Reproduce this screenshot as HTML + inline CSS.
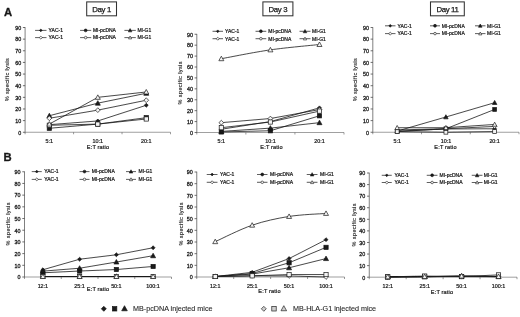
<!DOCTYPE html>
<html><head><meta charset="utf-8"><title>Figure</title>
<style>
html,body{margin:0;padding:0;background:#fff;}
body{width:520px;height:317px;overflow:hidden;font-family:"Liberation Sans", sans-serif;}
svg{display:block;font-family:"Liberation Sans", sans-serif;fill:#1a1a1a;}
svg text{fill:#1a1a1a;}
</style></head><body>
<svg width="520" height="317" viewBox="0 0 520 317">
<rect width="520" height="317" fill="#fff"/>
<g filter="url(#soft)">
<line x1="25.1" y1="27.2" x2="25.1" y2="132.55" stroke="#505050" stroke-width="0.72"/>
<line x1="25.1" y1="132.25" x2="170.5" y2="132.25" stroke="#777" stroke-width="0.7"/>
<line x1="22.900000000000002" y1="132.25" x2="25.1" y2="132.25" stroke="#333" stroke-width="0.7"/>
<text x="21.20" y="134.55" font-size="5.4" text-anchor="end" font-weight="normal" stroke="#1a1a1a" stroke-width="0.28" >0</text>
<line x1="22.900000000000002" y1="120.61" x2="25.1" y2="120.61" stroke="#333" stroke-width="0.7"/>
<text x="21.20" y="122.91" font-size="5.4" text-anchor="end" font-weight="normal" stroke="#1a1a1a" stroke-width="0.28" >10</text>
<line x1="22.900000000000002" y1="108.97" x2="25.1" y2="108.97" stroke="#333" stroke-width="0.7"/>
<text x="21.20" y="111.27" font-size="5.4" text-anchor="end" font-weight="normal" stroke="#1a1a1a" stroke-width="0.28" >20</text>
<line x1="22.900000000000002" y1="97.33" x2="25.1" y2="97.33" stroke="#333" stroke-width="0.7"/>
<text x="21.20" y="99.63" font-size="5.4" text-anchor="end" font-weight="normal" stroke="#1a1a1a" stroke-width="0.28" >30</text>
<line x1="22.900000000000002" y1="85.69" x2="25.1" y2="85.69" stroke="#333" stroke-width="0.7"/>
<text x="21.20" y="87.99" font-size="5.4" text-anchor="end" font-weight="normal" stroke="#1a1a1a" stroke-width="0.28" >40</text>
<line x1="22.900000000000002" y1="74.06" x2="25.1" y2="74.06" stroke="#333" stroke-width="0.7"/>
<text x="21.20" y="76.36" font-size="5.4" text-anchor="end" font-weight="normal" stroke="#1a1a1a" stroke-width="0.28" >50</text>
<line x1="22.900000000000002" y1="62.42" x2="25.1" y2="62.42" stroke="#333" stroke-width="0.7"/>
<text x="21.20" y="64.72" font-size="5.4" text-anchor="end" font-weight="normal" stroke="#1a1a1a" stroke-width="0.28" >60</text>
<line x1="22.900000000000002" y1="50.78" x2="25.1" y2="50.78" stroke="#333" stroke-width="0.7"/>
<text x="21.20" y="53.08" font-size="5.4" text-anchor="end" font-weight="normal" stroke="#1a1a1a" stroke-width="0.28" >70</text>
<line x1="22.900000000000002" y1="39.14" x2="25.1" y2="39.14" stroke="#333" stroke-width="0.7"/>
<text x="21.20" y="41.44" font-size="5.4" text-anchor="end" font-weight="normal" stroke="#1a1a1a" stroke-width="0.28" >80</text>
<line x1="22.900000000000002" y1="27.50" x2="25.1" y2="27.50" stroke="#333" stroke-width="0.7"/>
<text x="21.20" y="29.80" font-size="5.4" text-anchor="end" font-weight="normal" stroke="#1a1a1a" stroke-width="0.28" >90</text>
<line x1="25.10" y1="132.25" x2="25.10" y2="134.25" stroke="#555" stroke-width="0.6"/>
<line x1="73.57" y1="132.25" x2="73.57" y2="134.25" stroke="#555" stroke-width="0.6"/>
<line x1="122.03" y1="132.25" x2="122.03" y2="134.25" stroke="#555" stroke-width="0.6"/>
<line x1="170.50" y1="132.25" x2="170.50" y2="134.25" stroke="#555" stroke-width="0.6"/>
<text x="49.33" y="142.70" font-size="5.4" text-anchor="middle" font-weight="normal" stroke="#1a1a1a" stroke-width="0.22" >5:1</text>
<text x="97.80" y="142.70" font-size="5.4" text-anchor="middle" font-weight="normal" stroke="#1a1a1a" stroke-width="0.22" >10:1</text>
<text x="146.27" y="142.70" font-size="5.4" text-anchor="middle" font-weight="normal" stroke="#1a1a1a" stroke-width="0.22" >20:1</text>
<text x="98.00" y="148.70" font-size="5.6" text-anchor="middle" font-weight="normal" stroke="#1a1a1a" stroke-width="0.22" letter-spacing="0.15">E:T ratio</text>
<text transform="translate(9.4 79.7) rotate(-90)" font-size="5.6" text-anchor="middle" stroke="#1a1a1a" stroke-width="0.12" textLength="43" lengthAdjust="spacing">% specific lysis</text>
<polyline points="49.33,124.68 97.80,120.96 146.27,105.25" fill="none" stroke="#1a1a1a" stroke-width="0.8"/>
<polyline points="49.33,128.29 97.80,124.10 146.27,117.70" fill="none" stroke="#1a1a1a" stroke-width="0.8"/>
<polyline points="49.33,115.72 97.80,103.15 146.27,93.26" fill="none" stroke="#1a1a1a" stroke-width="0.8"/>
<polyline points="49.33,118.28 97.80,110.14 146.27,100.24" fill="none" stroke="#1a1a1a" stroke-width="0.8"/>
<polyline points="49.33,125.27 97.80,124.10 146.27,118.98" fill="none" stroke="#1a1a1a" stroke-width="0.8"/>
<polyline points="49.33,124.10 97.80,97.33 146.27,91.98" fill="none" stroke="#1a1a1a" stroke-width="0.8"/>
<path d="M49.33 122.73L51.28 124.68L49.33 126.63L47.38 124.68Z" fill="#1a1a1a" stroke="#1a1a1a" stroke-width="0.7"/>
<path d="M97.80 119.01L99.75 120.96L97.80 122.91L95.85 120.96Z" fill="#1a1a1a" stroke="#1a1a1a" stroke-width="0.7"/>
<path d="M146.27 103.30L148.22 105.25L146.27 107.20L144.32 105.25Z" fill="#1a1a1a" stroke="#1a1a1a" stroke-width="0.7"/>
<rect x="47.21" y="126.17" width="4.25" height="4.25" fill="#1a1a1a" stroke="#1a1a1a" stroke-width="0.7"/>
<rect x="95.68" y="121.98" width="4.25" height="4.25" fill="#1a1a1a" stroke="#1a1a1a" stroke-width="0.7"/>
<rect x="144.14" y="115.58" width="4.25" height="4.25" fill="#1a1a1a" stroke="#1a1a1a" stroke-width="0.7"/>
<path d="M49.33 113.22L51.83 117.72L46.83 117.72Z" fill="#1a1a1a" stroke="#1a1a1a" stroke-width="0.7"/>
<path d="M97.80 100.65L100.30 105.15L95.30 105.15Z" fill="#1a1a1a" stroke="#1a1a1a" stroke-width="0.7"/>
<path d="M146.27 90.76L148.77 95.26L143.77 95.26Z" fill="#1a1a1a" stroke="#1a1a1a" stroke-width="0.7"/>
<path d="M49.33 115.91L51.71 118.28L49.33 120.66L46.96 118.28Z" fill="#f4f4f4" stroke="#1a1a1a" stroke-width="0.7"/>
<path d="M97.80 107.76L100.18 110.14L97.80 112.51L95.43 110.14Z" fill="#f4f4f4" stroke="#1a1a1a" stroke-width="0.7"/>
<path d="M146.27 97.87L148.64 100.24L146.27 102.62L143.89 100.24Z" fill="#f4f4f4" stroke="#1a1a1a" stroke-width="0.7"/>
<rect x="47.21" y="123.14" width="4.25" height="4.25" fill="#f4f4f4" stroke="#1a1a1a" stroke-width="0.7"/>
<rect x="95.68" y="121.98" width="4.25" height="4.25" fill="#f4f4f4" stroke="#1a1a1a" stroke-width="0.7"/>
<rect x="144.14" y="116.86" width="4.25" height="4.25" fill="#f4f4f4" stroke="#1a1a1a" stroke-width="0.7"/>
<path d="M49.33 121.60L51.83 126.10L46.83 126.10Z" fill="#f4f4f4" stroke="#1a1a1a" stroke-width="0.7"/>
<path d="M97.80 94.83L100.30 99.33L95.30 99.33Z" fill="#f4f4f4" stroke="#1a1a1a" stroke-width="0.7"/>
<path d="M146.27 89.48L148.77 93.98L143.77 93.98Z" fill="#f4f4f4" stroke="#1a1a1a" stroke-width="0.7"/>
<line x1="35.1" y1="30.4" x2="46.5" y2="30.4" stroke="#1a1a1a" stroke-width="0.7"/>
<path d="M40.80 29.00L42.20 30.40L40.80 31.80L39.40 30.40Z" fill="#1a1a1a" stroke="#1a1a1a" stroke-width="0.6"/>
<text x="48.60" y="32.20" font-size="5.0" text-anchor="start" font-weight="normal" stroke="#1a1a1a" stroke-width="0.22" >YAC-1</text>
<line x1="80.1" y1="30.4" x2="91.2" y2="30.4" stroke="#1a1a1a" stroke-width="0.7"/>
<circle cx="85.65" cy="30.40" r="1.44" fill="#1a1a1a" stroke="#1a1a1a" stroke-width="0.6"/>
<text x="92.90" y="32.20" font-size="5.0" text-anchor="start" font-weight="normal" stroke="#1a1a1a" stroke-width="0.22" >MI-pcDNA</text>
<line x1="124.4" y1="30.4" x2="135.8" y2="30.4" stroke="#1a1a1a" stroke-width="0.7"/>
<path d="M130.10 28.60L131.90 31.84L128.30 31.84Z" fill="#1a1a1a" stroke="#1a1a1a" stroke-width="0.6"/>
<text x="137.40" y="32.20" font-size="5.0" text-anchor="start" font-weight="normal" stroke="#1a1a1a" stroke-width="0.22" >MI-G1</text>
<line x1="35.1" y1="37.6" x2="46.5" y2="37.6" stroke="#1a1a1a" stroke-width="0.7"/>
<path d="M40.80 36.08L42.32 37.60L40.80 39.12L39.28 37.60Z" fill="#f4f4f4" stroke="#1a1a1a" stroke-width="0.6"/>
<text x="48.60" y="39.40" font-size="5.0" text-anchor="start" font-weight="normal" stroke="#1a1a1a" stroke-width="0.22" >YAC-1</text>
<line x1="80.1" y1="37.6" x2="91.2" y2="37.6" stroke="#1a1a1a" stroke-width="0.7"/>
<circle cx="85.65" cy="37.60" r="1.28" fill="#f4f4f4" stroke="#1a1a1a" stroke-width="0.6"/>
<text x="92.90" y="39.40" font-size="5.0" text-anchor="start" font-weight="normal" stroke="#1a1a1a" stroke-width="0.22" >MI-pcDNA</text>
<line x1="124.4" y1="37.6" x2="135.8" y2="37.6" stroke="#1a1a1a" stroke-width="0.7"/>
<path d="M130.10 36.00L131.70 38.88L128.50 38.88Z" fill="#f4f4f4" stroke="#1a1a1a" stroke-width="0.6"/>
<text x="137.40" y="39.40" font-size="5.0" text-anchor="start" font-weight="normal" stroke="#1a1a1a" stroke-width="0.22" >MI-G1</text>
<line x1="196.8" y1="33.95" x2="196.8" y2="132.8" stroke="#505050" stroke-width="0.72"/>
<line x1="196.8" y1="132.5" x2="344" y2="132.5" stroke="#777" stroke-width="0.7"/>
<line x1="194.60000000000002" y1="132.50" x2="196.8" y2="132.50" stroke="#333" stroke-width="0.7"/>
<text x="192.90" y="134.80" font-size="5.4" text-anchor="end" font-weight="normal" stroke="#1a1a1a" stroke-width="0.28" >0</text>
<line x1="194.60000000000002" y1="121.58" x2="196.8" y2="121.58" stroke="#333" stroke-width="0.7"/>
<text x="192.90" y="123.88" font-size="5.4" text-anchor="end" font-weight="normal" stroke="#1a1a1a" stroke-width="0.28" >10</text>
<line x1="194.60000000000002" y1="110.67" x2="196.8" y2="110.67" stroke="#333" stroke-width="0.7"/>
<text x="192.90" y="112.97" font-size="5.4" text-anchor="end" font-weight="normal" stroke="#1a1a1a" stroke-width="0.28" >20</text>
<line x1="194.60000000000002" y1="99.75" x2="196.8" y2="99.75" stroke="#333" stroke-width="0.7"/>
<text x="192.90" y="102.05" font-size="5.4" text-anchor="end" font-weight="normal" stroke="#1a1a1a" stroke-width="0.28" >30</text>
<line x1="194.60000000000002" y1="88.83" x2="196.8" y2="88.83" stroke="#333" stroke-width="0.7"/>
<text x="192.90" y="91.13" font-size="5.4" text-anchor="end" font-weight="normal" stroke="#1a1a1a" stroke-width="0.28" >40</text>
<line x1="194.60000000000002" y1="77.92" x2="196.8" y2="77.92" stroke="#333" stroke-width="0.7"/>
<text x="192.90" y="80.22" font-size="5.4" text-anchor="end" font-weight="normal" stroke="#1a1a1a" stroke-width="0.28" >50</text>
<line x1="194.60000000000002" y1="67.00" x2="196.8" y2="67.00" stroke="#333" stroke-width="0.7"/>
<text x="192.90" y="69.30" font-size="5.4" text-anchor="end" font-weight="normal" stroke="#1a1a1a" stroke-width="0.28" >60</text>
<line x1="194.60000000000002" y1="56.08" x2="196.8" y2="56.08" stroke="#333" stroke-width="0.7"/>
<text x="192.90" y="58.38" font-size="5.4" text-anchor="end" font-weight="normal" stroke="#1a1a1a" stroke-width="0.28" >70</text>
<line x1="194.60000000000002" y1="45.17" x2="196.8" y2="45.17" stroke="#333" stroke-width="0.7"/>
<text x="192.90" y="47.47" font-size="5.4" text-anchor="end" font-weight="normal" stroke="#1a1a1a" stroke-width="0.28" >80</text>
<line x1="194.60000000000002" y1="34.25" x2="196.8" y2="34.25" stroke="#333" stroke-width="0.7"/>
<text x="192.90" y="36.55" font-size="5.4" text-anchor="end" font-weight="normal" stroke="#1a1a1a" stroke-width="0.28" >90</text>
<line x1="196.80" y1="132.5" x2="196.80" y2="134.5" stroke="#555" stroke-width="0.6"/>
<line x1="245.87" y1="132.5" x2="245.87" y2="134.5" stroke="#555" stroke-width="0.6"/>
<line x1="294.93" y1="132.5" x2="294.93" y2="134.5" stroke="#555" stroke-width="0.6"/>
<line x1="344.00" y1="132.5" x2="344.00" y2="134.5" stroke="#555" stroke-width="0.6"/>
<text x="221.33" y="142.70" font-size="5.4" text-anchor="middle" font-weight="normal" stroke="#1a1a1a" stroke-width="0.22" >5:1</text>
<text x="270.40" y="142.70" font-size="5.4" text-anchor="middle" font-weight="normal" stroke="#1a1a1a" stroke-width="0.22" >10:1</text>
<text x="319.47" y="142.70" font-size="5.4" text-anchor="middle" font-weight="normal" stroke="#1a1a1a" stroke-width="0.22" >20:1</text>
<text x="271.50" y="148.70" font-size="5.6" text-anchor="middle" font-weight="normal" stroke="#1a1a1a" stroke-width="0.22" letter-spacing="0.15">E:T ratio</text>
<text transform="translate(182.2 83) rotate(-90)" font-size="5.6" text-anchor="middle" stroke="#1a1a1a" stroke-width="0.12" textLength="43" lengthAdjust="spacing">% specific lysis</text>
<polyline points="221.33,129.22 270.40,121.58 319.47,107.83" fill="none" stroke="#1a1a1a" stroke-width="0.8"/>
<polyline points="221.33,131.95 270.40,130.75 319.47,115.80" fill="none" stroke="#1a1a1a" stroke-width="0.8"/>
<polyline points="221.33,131.41 270.40,128.13 319.47,122.67" fill="none" stroke="#1a1a1a" stroke-width="0.8"/>
<polyline points="221.33,122.67 270.40,118.53 319.47,109.58" fill="none" stroke="#1a1a1a" stroke-width="0.8"/>
<polyline points="221.33,127.70 270.40,122.02 319.47,111.10" fill="none" stroke="#1a1a1a" stroke-width="0.8"/>
<path d="M221.33 58.70C229.51 57.23 254.04 52.23 270.40 49.86C286.76 47.50 311.29 45.40 319.47 44.51" fill="none" stroke="#1a1a1a" stroke-width="0.8"/>
<path d="M221.33 127.27L223.28 129.22L221.33 131.17L219.38 129.22Z" fill="#1a1a1a" stroke="#1a1a1a" stroke-width="0.7"/>
<path d="M270.40 119.63L272.35 121.58L270.40 123.53L268.45 121.58Z" fill="#1a1a1a" stroke="#1a1a1a" stroke-width="0.7"/>
<path d="M319.47 105.88L321.42 107.83L319.47 109.78L317.52 107.83Z" fill="#1a1a1a" stroke="#1a1a1a" stroke-width="0.7"/>
<rect x="219.21" y="129.83" width="4.25" height="4.25" fill="#1a1a1a" stroke="#1a1a1a" stroke-width="0.7"/>
<rect x="268.27" y="128.63" width="4.25" height="4.25" fill="#1a1a1a" stroke="#1a1a1a" stroke-width="0.7"/>
<rect x="317.34" y="113.67" width="4.25" height="4.25" fill="#1a1a1a" stroke="#1a1a1a" stroke-width="0.7"/>
<path d="M221.33 128.91L223.83 133.41L218.83 133.41Z" fill="#1a1a1a" stroke="#1a1a1a" stroke-width="0.7"/>
<path d="M270.40 125.63L272.90 130.13L267.90 130.13Z" fill="#1a1a1a" stroke="#1a1a1a" stroke-width="0.7"/>
<path d="M319.47 120.17L321.97 124.67L316.97 124.67Z" fill="#1a1a1a" stroke="#1a1a1a" stroke-width="0.7"/>
<path d="M221.33 120.30L223.71 122.67L221.33 125.05L218.96 122.67Z" fill="#f4f4f4" stroke="#1a1a1a" stroke-width="0.7"/>
<path d="M270.40 116.15L272.77 118.53L270.40 120.90L268.02 118.53Z" fill="#f4f4f4" stroke="#1a1a1a" stroke-width="0.7"/>
<path d="M319.47 107.20L321.84 109.58L319.47 111.95L317.09 109.58Z" fill="#f4f4f4" stroke="#1a1a1a" stroke-width="0.7"/>
<rect x="219.21" y="125.57" width="4.25" height="4.25" fill="#f4f4f4" stroke="#1a1a1a" stroke-width="0.7"/>
<rect x="268.27" y="119.89" width="4.25" height="4.25" fill="#f4f4f4" stroke="#1a1a1a" stroke-width="0.7"/>
<rect x="317.34" y="108.98" width="4.25" height="4.25" fill="#f4f4f4" stroke="#1a1a1a" stroke-width="0.7"/>
<path d="M221.33 56.20L223.83 60.70L218.83 60.70Z" fill="#f4f4f4" stroke="#1a1a1a" stroke-width="0.7"/>
<path d="M270.40 47.36L272.90 51.86L267.90 51.86Z" fill="#f4f4f4" stroke="#1a1a1a" stroke-width="0.7"/>
<path d="M319.47 42.01L321.97 46.51L316.97 46.51Z" fill="#f4f4f4" stroke="#1a1a1a" stroke-width="0.7"/>
<line x1="212.5" y1="31.3" x2="223" y2="31.3" stroke="#1a1a1a" stroke-width="0.7"/>
<path d="M217.75 29.90L219.15 31.30L217.75 32.70L216.35 31.30Z" fill="#1a1a1a" stroke="#1a1a1a" stroke-width="0.6"/>
<text x="225.00" y="33.10" font-size="5.0" text-anchor="start" font-weight="normal" stroke="#1a1a1a" stroke-width="0.22" >YAC-1</text>
<line x1="255.5" y1="31.3" x2="266.25" y2="31.3" stroke="#1a1a1a" stroke-width="0.7"/>
<circle cx="260.88" cy="31.30" r="1.44" fill="#1a1a1a" stroke="#1a1a1a" stroke-width="0.6"/>
<text x="268.25" y="33.10" font-size="5.0" text-anchor="start" font-weight="normal" stroke="#1a1a1a" stroke-width="0.22" >MI-pcDNA</text>
<line x1="299.5" y1="31.3" x2="310.5" y2="31.3" stroke="#1a1a1a" stroke-width="0.7"/>
<path d="M305.00 29.50L306.80 32.74L303.20 32.74Z" fill="#1a1a1a" stroke="#1a1a1a" stroke-width="0.6"/>
<text x="312.00" y="33.10" font-size="5.0" text-anchor="start" font-weight="normal" stroke="#1a1a1a" stroke-width="0.22" >MI-G1</text>
<line x1="212.5" y1="38.7" x2="223" y2="38.7" stroke="#1a1a1a" stroke-width="0.7"/>
<path d="M217.75 37.18L219.27 38.70L217.75 40.22L216.23 38.70Z" fill="#f4f4f4" stroke="#1a1a1a" stroke-width="0.6"/>
<text x="225.00" y="40.50" font-size="5.0" text-anchor="start" font-weight="normal" stroke="#1a1a1a" stroke-width="0.22" >YAC-1</text>
<line x1="255.5" y1="38.7" x2="266.25" y2="38.7" stroke="#1a1a1a" stroke-width="0.7"/>
<circle cx="260.88" cy="38.70" r="1.28" fill="#f4f4f4" stroke="#1a1a1a" stroke-width="0.6"/>
<text x="268.25" y="40.50" font-size="5.0" text-anchor="start" font-weight="normal" stroke="#1a1a1a" stroke-width="0.22" >MI-pcDNA</text>
<line x1="299.5" y1="38.7" x2="310.5" y2="38.7" stroke="#1a1a1a" stroke-width="0.7"/>
<path d="M305.00 37.10L306.60 39.98L303.40 39.98Z" fill="#f4f4f4" stroke="#1a1a1a" stroke-width="0.6"/>
<text x="312.00" y="40.50" font-size="5.0" text-anchor="start" font-weight="normal" stroke="#1a1a1a" stroke-width="0.22" >MI-G1</text>
<line x1="372.8" y1="27.2" x2="372.8" y2="132.55" stroke="#505050" stroke-width="0.72"/>
<line x1="372.8" y1="132.25" x2="519" y2="132.25" stroke="#777" stroke-width="0.7"/>
<line x1="370.6" y1="132.25" x2="372.8" y2="132.25" stroke="#333" stroke-width="0.7"/>
<text x="368.90" y="134.55" font-size="5.4" text-anchor="end" font-weight="normal" stroke="#1a1a1a" stroke-width="0.28" >0</text>
<line x1="370.6" y1="120.61" x2="372.8" y2="120.61" stroke="#333" stroke-width="0.7"/>
<text x="368.90" y="122.91" font-size="5.4" text-anchor="end" font-weight="normal" stroke="#1a1a1a" stroke-width="0.28" >10</text>
<line x1="370.6" y1="108.97" x2="372.8" y2="108.97" stroke="#333" stroke-width="0.7"/>
<text x="368.90" y="111.27" font-size="5.4" text-anchor="end" font-weight="normal" stroke="#1a1a1a" stroke-width="0.28" >20</text>
<line x1="370.6" y1="97.33" x2="372.8" y2="97.33" stroke="#333" stroke-width="0.7"/>
<text x="368.90" y="99.63" font-size="5.4" text-anchor="end" font-weight="normal" stroke="#1a1a1a" stroke-width="0.28" >30</text>
<line x1="370.6" y1="85.69" x2="372.8" y2="85.69" stroke="#333" stroke-width="0.7"/>
<text x="368.90" y="87.99" font-size="5.4" text-anchor="end" font-weight="normal" stroke="#1a1a1a" stroke-width="0.28" >40</text>
<line x1="370.6" y1="74.06" x2="372.8" y2="74.06" stroke="#333" stroke-width="0.7"/>
<text x="368.90" y="76.36" font-size="5.4" text-anchor="end" font-weight="normal" stroke="#1a1a1a" stroke-width="0.28" >50</text>
<line x1="370.6" y1="62.42" x2="372.8" y2="62.42" stroke="#333" stroke-width="0.7"/>
<text x="368.90" y="64.72" font-size="5.4" text-anchor="end" font-weight="normal" stroke="#1a1a1a" stroke-width="0.28" >60</text>
<line x1="370.6" y1="50.78" x2="372.8" y2="50.78" stroke="#333" stroke-width="0.7"/>
<text x="368.90" y="53.08" font-size="5.4" text-anchor="end" font-weight="normal" stroke="#1a1a1a" stroke-width="0.28" >70</text>
<line x1="370.6" y1="39.14" x2="372.8" y2="39.14" stroke="#333" stroke-width="0.7"/>
<text x="368.90" y="41.44" font-size="5.4" text-anchor="end" font-weight="normal" stroke="#1a1a1a" stroke-width="0.28" >80</text>
<line x1="370.6" y1="27.50" x2="372.8" y2="27.50" stroke="#333" stroke-width="0.7"/>
<text x="368.90" y="29.80" font-size="5.4" text-anchor="end" font-weight="normal" stroke="#1a1a1a" stroke-width="0.28" >90</text>
<line x1="372.80" y1="132.25" x2="372.80" y2="134.25" stroke="#555" stroke-width="0.6"/>
<line x1="421.53" y1="132.25" x2="421.53" y2="134.25" stroke="#555" stroke-width="0.6"/>
<line x1="470.27" y1="132.25" x2="470.27" y2="134.25" stroke="#555" stroke-width="0.6"/>
<line x1="519.00" y1="132.25" x2="519.00" y2="134.25" stroke="#555" stroke-width="0.6"/>
<text x="397.17" y="142.70" font-size="5.4" text-anchor="middle" font-weight="normal" stroke="#1a1a1a" stroke-width="0.22" >5:1</text>
<text x="445.90" y="142.70" font-size="5.4" text-anchor="middle" font-weight="normal" stroke="#1a1a1a" stroke-width="0.22" >10:1</text>
<text x="494.63" y="142.70" font-size="5.4" text-anchor="middle" font-weight="normal" stroke="#1a1a1a" stroke-width="0.22" >20:1</text>
<text x="445.50" y="148.70" font-size="5.6" text-anchor="middle" font-weight="normal" stroke="#1a1a1a" stroke-width="0.22" letter-spacing="0.15">E:T ratio</text>
<text transform="translate(357 79.7) rotate(-90)" font-size="5.6" text-anchor="middle" stroke="#1a1a1a" stroke-width="0.12" textLength="43" lengthAdjust="spacing">% specific lysis</text>
<polyline points="397.17,131.09 445.90,128.99 494.63,128.76" fill="none" stroke="#1a1a1a" stroke-width="0.8"/>
<polyline points="397.17,131.67 445.90,128.76 494.63,109.44" fill="none" stroke="#1a1a1a" stroke-width="0.8"/>
<polyline points="397.17,131.09 445.90,117.00 494.63,102.69" fill="none" stroke="#1a1a1a" stroke-width="0.8"/>
<polyline points="397.17,129.92 445.90,128.76 494.63,126.43" fill="none" stroke="#1a1a1a" stroke-width="0.8"/>
<polyline points="397.17,131.67 445.90,132.25 494.63,131.55" fill="none" stroke="#1a1a1a" stroke-width="0.8"/>
<polyline points="397.17,127.71 445.90,127.71 494.63,124.45" fill="none" stroke="#1a1a1a" stroke-width="0.8"/>
<path d="M397.17 129.33L398.92 131.09L397.17 132.84L395.41 131.09Z" fill="#1a1a1a" stroke="#1a1a1a" stroke-width="0.7"/>
<path d="M445.90 127.24L447.65 128.99L445.90 130.75L444.14 128.99Z" fill="#1a1a1a" stroke="#1a1a1a" stroke-width="0.7"/>
<path d="M494.63 127.00L496.39 128.76L494.63 130.51L492.88 128.76Z" fill="#1a1a1a" stroke="#1a1a1a" stroke-width="0.7"/>
<rect x="395.25" y="129.76" width="3.82" height="3.82" fill="#1a1a1a" stroke="#1a1a1a" stroke-width="0.7"/>
<rect x="443.99" y="126.85" width="3.82" height="3.82" fill="#1a1a1a" stroke="#1a1a1a" stroke-width="0.7"/>
<rect x="492.72" y="107.53" width="3.82" height="3.82" fill="#1a1a1a" stroke="#1a1a1a" stroke-width="0.7"/>
<path d="M397.17 128.84L399.42 132.89L394.92 132.89Z" fill="#1a1a1a" stroke="#1a1a1a" stroke-width="0.7"/>
<path d="M445.90 114.75L448.15 118.80L443.65 118.80Z" fill="#1a1a1a" stroke="#1a1a1a" stroke-width="0.7"/>
<path d="M494.63 100.44L496.88 104.49L492.38 104.49Z" fill="#1a1a1a" stroke="#1a1a1a" stroke-width="0.7"/>
<path d="M397.17 127.78L399.30 129.92L397.17 132.06L395.03 129.92Z" fill="#f4f4f4" stroke="#1a1a1a" stroke-width="0.7"/>
<path d="M445.90 126.62L448.04 128.76L445.90 130.90L443.76 128.76Z" fill="#f4f4f4" stroke="#1a1a1a" stroke-width="0.7"/>
<path d="M494.63 124.29L496.77 126.43L494.63 128.57L492.50 126.43Z" fill="#f4f4f4" stroke="#1a1a1a" stroke-width="0.7"/>
<rect x="395.25" y="129.76" width="3.82" height="3.82" fill="#f4f4f4" stroke="#1a1a1a" stroke-width="0.7"/>
<rect x="443.99" y="130.34" width="3.82" height="3.82" fill="#f4f4f4" stroke="#1a1a1a" stroke-width="0.7"/>
<rect x="492.72" y="129.64" width="3.82" height="3.82" fill="#f4f4f4" stroke="#1a1a1a" stroke-width="0.7"/>
<path d="M397.17 125.46L399.42 129.51L394.92 129.51Z" fill="#f4f4f4" stroke="#1a1a1a" stroke-width="0.7"/>
<path d="M445.90 125.46L448.15 129.51L443.65 129.51Z" fill="#f4f4f4" stroke="#1a1a1a" stroke-width="0.7"/>
<path d="M494.63 122.20L496.88 126.25L492.38 126.25Z" fill="#f4f4f4" stroke="#1a1a1a" stroke-width="0.7"/>
<line x1="385" y1="25.8" x2="395.5" y2="25.8" stroke="#1a1a1a" stroke-width="0.7"/>
<path d="M390.25 24.40L391.65 25.80L390.25 27.20L388.85 25.80Z" fill="#1a1a1a" stroke="#1a1a1a" stroke-width="0.6"/>
<text x="397.50" y="27.60" font-size="5.0" text-anchor="start" font-weight="normal" stroke="#1a1a1a" stroke-width="0.22" >YAC-1</text>
<line x1="430" y1="25.8" x2="440" y2="25.8" stroke="#1a1a1a" stroke-width="0.7"/>
<circle cx="435.00" cy="25.80" r="1.44" fill="#1a1a1a" stroke="#1a1a1a" stroke-width="0.6"/>
<text x="441.75" y="27.60" font-size="5.0" text-anchor="start" font-weight="normal" stroke="#1a1a1a" stroke-width="0.22" >MI-pcDNA</text>
<line x1="475" y1="25.8" x2="485.5" y2="25.8" stroke="#1a1a1a" stroke-width="0.7"/>
<path d="M480.25 24.00L482.05 27.24L478.45 27.24Z" fill="#1a1a1a" stroke="#1a1a1a" stroke-width="0.6"/>
<text x="487.00" y="27.60" font-size="5.0" text-anchor="start" font-weight="normal" stroke="#1a1a1a" stroke-width="0.22" >MI-G1</text>
<line x1="385" y1="33.6" x2="395.5" y2="33.6" stroke="#1a1a1a" stroke-width="0.7"/>
<path d="M390.25 32.08L391.77 33.60L390.25 35.12L388.73 33.60Z" fill="#f4f4f4" stroke="#1a1a1a" stroke-width="0.6"/>
<text x="397.50" y="35.40" font-size="5.0" text-anchor="start" font-weight="normal" stroke="#1a1a1a" stroke-width="0.22" >YAC-1</text>
<line x1="430" y1="33.6" x2="440" y2="33.6" stroke="#1a1a1a" stroke-width="0.7"/>
<circle cx="435.00" cy="33.60" r="1.28" fill="#f4f4f4" stroke="#1a1a1a" stroke-width="0.6"/>
<text x="441.75" y="35.40" font-size="5.0" text-anchor="start" font-weight="normal" stroke="#1a1a1a" stroke-width="0.22" >MI-pcDNA</text>
<line x1="475" y1="33.6" x2="485.5" y2="33.6" stroke="#1a1a1a" stroke-width="0.7"/>
<path d="M480.25 32.00L481.85 34.88L478.65 34.88Z" fill="#f4f4f4" stroke="#1a1a1a" stroke-width="0.6"/>
<text x="487.00" y="35.40" font-size="5.0" text-anchor="start" font-weight="normal" stroke="#1a1a1a" stroke-width="0.22" >MI-G1</text>
<line x1="24.5" y1="171.45" x2="24.5" y2="277.3" stroke="#505050" stroke-width="0.72"/>
<line x1="24.5" y1="277" x2="171.5" y2="277" stroke="#777" stroke-width="0.7"/>
<line x1="22.3" y1="277.00" x2="24.5" y2="277.00" stroke="#333" stroke-width="0.7"/>
<text x="20.60" y="279.30" font-size="5.4" text-anchor="end" font-weight="normal" stroke="#1a1a1a" stroke-width="0.28" >0</text>
<line x1="22.3" y1="265.31" x2="24.5" y2="265.31" stroke="#333" stroke-width="0.7"/>
<text x="20.60" y="267.61" font-size="5.4" text-anchor="end" font-weight="normal" stroke="#1a1a1a" stroke-width="0.28" >10</text>
<line x1="22.3" y1="253.61" x2="24.5" y2="253.61" stroke="#333" stroke-width="0.7"/>
<text x="20.60" y="255.91" font-size="5.4" text-anchor="end" font-weight="normal" stroke="#1a1a1a" stroke-width="0.28" >20</text>
<line x1="22.3" y1="241.92" x2="24.5" y2="241.92" stroke="#333" stroke-width="0.7"/>
<text x="20.60" y="244.22" font-size="5.4" text-anchor="end" font-weight="normal" stroke="#1a1a1a" stroke-width="0.28" >30</text>
<line x1="22.3" y1="230.22" x2="24.5" y2="230.22" stroke="#333" stroke-width="0.7"/>
<text x="20.60" y="232.52" font-size="5.4" text-anchor="end" font-weight="normal" stroke="#1a1a1a" stroke-width="0.28" >40</text>
<line x1="22.3" y1="218.53" x2="24.5" y2="218.53" stroke="#333" stroke-width="0.7"/>
<text x="20.60" y="220.83" font-size="5.4" text-anchor="end" font-weight="normal" stroke="#1a1a1a" stroke-width="0.28" >50</text>
<line x1="22.3" y1="206.83" x2="24.5" y2="206.83" stroke="#333" stroke-width="0.7"/>
<text x="20.60" y="209.13" font-size="5.4" text-anchor="end" font-weight="normal" stroke="#1a1a1a" stroke-width="0.28" >60</text>
<line x1="22.3" y1="195.14" x2="24.5" y2="195.14" stroke="#333" stroke-width="0.7"/>
<text x="20.60" y="197.44" font-size="5.4" text-anchor="end" font-weight="normal" stroke="#1a1a1a" stroke-width="0.28" >70</text>
<line x1="22.3" y1="183.44" x2="24.5" y2="183.44" stroke="#333" stroke-width="0.7"/>
<text x="20.60" y="185.74" font-size="5.4" text-anchor="end" font-weight="normal" stroke="#1a1a1a" stroke-width="0.28" >80</text>
<line x1="22.3" y1="171.75" x2="24.5" y2="171.75" stroke="#333" stroke-width="0.7"/>
<text x="20.60" y="174.05" font-size="5.4" text-anchor="end" font-weight="normal" stroke="#1a1a1a" stroke-width="0.28" >90</text>
<line x1="24.50" y1="277" x2="24.50" y2="279" stroke="#555" stroke-width="0.6"/>
<line x1="61.25" y1="277" x2="61.25" y2="279" stroke="#555" stroke-width="0.6"/>
<line x1="98.00" y1="277" x2="98.00" y2="279" stroke="#555" stroke-width="0.6"/>
<line x1="134.75" y1="277" x2="134.75" y2="279" stroke="#555" stroke-width="0.6"/>
<line x1="171.50" y1="277" x2="171.50" y2="279" stroke="#555" stroke-width="0.6"/>
<text x="42.88" y="288.00" font-size="5.4" text-anchor="middle" font-weight="normal" stroke="#1a1a1a" stroke-width="0.22" >12:1</text>
<text x="79.62" y="288.00" font-size="5.4" text-anchor="middle" font-weight="normal" stroke="#1a1a1a" stroke-width="0.22" >25:1</text>
<text x="116.38" y="288.00" font-size="5.4" text-anchor="middle" font-weight="normal" stroke="#1a1a1a" stroke-width="0.22" >50:1</text>
<text x="153.12" y="288.00" font-size="5.4" text-anchor="middle" font-weight="normal" stroke="#1a1a1a" stroke-width="0.22" >100:1</text>
<text x="98.00" y="290.70" font-size="5.6" text-anchor="middle" font-weight="normal" stroke="#1a1a1a" stroke-width="0.22" letter-spacing="0.15">E:T ratio</text>
<text transform="translate(9.6 224) rotate(-90)" font-size="5.6" text-anchor="middle" stroke="#1a1a1a" stroke-width="0.12" textLength="43" lengthAdjust="spacing">% specific lysis</text>
<polyline points="42.88,269.75 79.62,259.22 116.38,254.78 153.12,247.76" fill="none" stroke="#1a1a1a" stroke-width="0.8"/>
<polyline points="42.88,272.79 79.62,271.04 116.38,269.52 153.12,266.48" fill="none" stroke="#1a1a1a" stroke-width="0.8"/>
<polyline points="42.88,271.15 79.62,268.23 116.38,262.03 153.12,255.72" fill="none" stroke="#1a1a1a" stroke-width="0.8"/>
<polyline points="42.88,276.53 79.62,276.53 116.38,276.53 153.12,276.53" fill="none" stroke="#1a1a1a" stroke-width="0.8"/>
<polyline points="42.88,276.53 79.62,276.53 116.38,276.53 153.12,276.53" fill="none" stroke="#1a1a1a" stroke-width="0.8"/>
<polyline points="42.88,276.53 79.62,276.53 116.38,276.53 153.12,276.53" fill="none" stroke="#1a1a1a" stroke-width="0.8"/>
<path d="M42.88 267.80L44.83 269.75L42.88 271.70L40.92 269.75Z" fill="#1a1a1a" stroke="#1a1a1a" stroke-width="0.7"/>
<path d="M79.62 257.27L81.58 259.22L79.62 261.17L77.67 259.22Z" fill="#1a1a1a" stroke="#1a1a1a" stroke-width="0.7"/>
<path d="M116.38 252.83L118.33 254.78L116.38 256.73L114.42 254.78Z" fill="#1a1a1a" stroke="#1a1a1a" stroke-width="0.7"/>
<path d="M153.12 245.81L155.07 247.76L153.12 249.71L151.18 247.76Z" fill="#1a1a1a" stroke="#1a1a1a" stroke-width="0.7"/>
<rect x="40.75" y="270.67" width="4.25" height="4.25" fill="#1a1a1a" stroke="#1a1a1a" stroke-width="0.7"/>
<rect x="77.50" y="268.91" width="4.25" height="4.25" fill="#1a1a1a" stroke="#1a1a1a" stroke-width="0.7"/>
<rect x="114.25" y="267.39" width="4.25" height="4.25" fill="#1a1a1a" stroke="#1a1a1a" stroke-width="0.7"/>
<rect x="151.00" y="264.35" width="4.25" height="4.25" fill="#1a1a1a" stroke="#1a1a1a" stroke-width="0.7"/>
<path d="M42.88 268.65L45.38 273.15L40.38 273.15Z" fill="#1a1a1a" stroke="#1a1a1a" stroke-width="0.7"/>
<path d="M79.62 265.73L82.12 270.23L77.12 270.23Z" fill="#1a1a1a" stroke="#1a1a1a" stroke-width="0.7"/>
<path d="M116.38 259.53L118.88 264.03L113.88 264.03Z" fill="#1a1a1a" stroke="#1a1a1a" stroke-width="0.7"/>
<path d="M153.12 253.22L155.62 257.72L150.62 257.72Z" fill="#1a1a1a" stroke="#1a1a1a" stroke-width="0.7"/>
<path d="M42.88 274.16L45.25 276.53L42.88 278.91L40.50 276.53Z" fill="#f4f4f4" stroke="#1a1a1a" stroke-width="0.7"/>
<path d="M79.62 274.16L82.00 276.53L79.62 278.91L77.25 276.53Z" fill="#f4f4f4" stroke="#1a1a1a" stroke-width="0.7"/>
<path d="M116.38 274.16L118.75 276.53L116.38 278.91L114.00 276.53Z" fill="#f4f4f4" stroke="#1a1a1a" stroke-width="0.7"/>
<path d="M153.12 274.16L155.50 276.53L153.12 278.91L150.75 276.53Z" fill="#f4f4f4" stroke="#1a1a1a" stroke-width="0.7"/>
<rect x="40.75" y="274.41" width="4.25" height="4.25" fill="#f4f4f4" stroke="#1a1a1a" stroke-width="0.7"/>
<rect x="77.50" y="274.41" width="4.25" height="4.25" fill="#f4f4f4" stroke="#1a1a1a" stroke-width="0.7"/>
<rect x="114.25" y="274.41" width="4.25" height="4.25" fill="#f4f4f4" stroke="#1a1a1a" stroke-width="0.7"/>
<rect x="151.00" y="274.41" width="4.25" height="4.25" fill="#f4f4f4" stroke="#1a1a1a" stroke-width="0.7"/>
<path d="M42.88 274.03L45.38 278.53L40.38 278.53Z" fill="#f4f4f4" stroke="#1a1a1a" stroke-width="0.7"/>
<path d="M79.62 274.03L82.12 278.53L77.12 278.53Z" fill="#f4f4f4" stroke="#1a1a1a" stroke-width="0.7"/>
<path d="M116.38 274.03L118.88 278.53L113.88 278.53Z" fill="#f4f4f4" stroke="#1a1a1a" stroke-width="0.7"/>
<path d="M153.12 274.03L155.62 278.53L150.62 278.53Z" fill="#f4f4f4" stroke="#1a1a1a" stroke-width="0.7"/>
<line x1="31.75" y1="171.6" x2="41.75" y2="171.6" stroke="#1a1a1a" stroke-width="0.7"/>
<path d="M36.75 170.20L38.15 171.60L36.75 173.00L35.35 171.60Z" fill="#1a1a1a" stroke="#1a1a1a" stroke-width="0.6"/>
<text x="44.25" y="173.40" font-size="5.0" text-anchor="start" font-weight="normal" stroke="#1a1a1a" stroke-width="0.22" >YAC-1</text>
<line x1="79.5" y1="171.6" x2="89.5" y2="171.6" stroke="#1a1a1a" stroke-width="0.7"/>
<circle cx="84.50" cy="171.60" r="1.44" fill="#1a1a1a" stroke="#1a1a1a" stroke-width="0.6"/>
<text x="91.75" y="173.40" font-size="5.0" text-anchor="start" font-weight="normal" stroke="#1a1a1a" stroke-width="0.22" >MI-pcDNA</text>
<line x1="126" y1="171.6" x2="136" y2="171.6" stroke="#1a1a1a" stroke-width="0.7"/>
<path d="M131.00 169.80L132.80 173.04L129.20 173.04Z" fill="#1a1a1a" stroke="#1a1a1a" stroke-width="0.6"/>
<text x="138.50" y="173.40" font-size="5.0" text-anchor="start" font-weight="normal" stroke="#1a1a1a" stroke-width="0.22" >MI-G1</text>
<line x1="31.75" y1="179.4" x2="41.75" y2="179.4" stroke="#1a1a1a" stroke-width="0.7"/>
<path d="M36.75 177.88L38.27 179.40L36.75 180.92L35.23 179.40Z" fill="#f4f4f4" stroke="#1a1a1a" stroke-width="0.6"/>
<text x="44.25" y="181.20" font-size="5.0" text-anchor="start" font-weight="normal" stroke="#1a1a1a" stroke-width="0.22" >YAC-1</text>
<line x1="79.5" y1="179.4" x2="89.5" y2="179.4" stroke="#1a1a1a" stroke-width="0.7"/>
<circle cx="84.50" cy="179.40" r="1.28" fill="#f4f4f4" stroke="#1a1a1a" stroke-width="0.6"/>
<text x="91.75" y="181.20" font-size="5.0" text-anchor="start" font-weight="normal" stroke="#1a1a1a" stroke-width="0.22" >MI-pcDNA</text>
<line x1="126" y1="179.4" x2="136" y2="179.4" stroke="#1a1a1a" stroke-width="0.7"/>
<path d="M131.00 177.80L132.60 180.68L129.40 180.68Z" fill="#f4f4f4" stroke="#1a1a1a" stroke-width="0.6"/>
<text x="138.50" y="181.20" font-size="5.0" text-anchor="start" font-weight="normal" stroke="#1a1a1a" stroke-width="0.22" >MI-G1</text>
<line x1="196.75" y1="171.7" x2="196.75" y2="277.3" stroke="#505050" stroke-width="0.72"/>
<line x1="196.75" y1="277" x2="344.5" y2="277" stroke="#777" stroke-width="0.7"/>
<line x1="194.55" y1="277.00" x2="196.75" y2="277.00" stroke="#333" stroke-width="0.7"/>
<text x="192.85" y="279.30" font-size="5.4" text-anchor="end" font-weight="normal" stroke="#1a1a1a" stroke-width="0.28" >0</text>
<line x1="194.55" y1="265.33" x2="196.75" y2="265.33" stroke="#333" stroke-width="0.7"/>
<text x="192.85" y="267.63" font-size="5.4" text-anchor="end" font-weight="normal" stroke="#1a1a1a" stroke-width="0.28" >10</text>
<line x1="194.55" y1="253.67" x2="196.75" y2="253.67" stroke="#333" stroke-width="0.7"/>
<text x="192.85" y="255.97" font-size="5.4" text-anchor="end" font-weight="normal" stroke="#1a1a1a" stroke-width="0.28" >20</text>
<line x1="194.55" y1="242.00" x2="196.75" y2="242.00" stroke="#333" stroke-width="0.7"/>
<text x="192.85" y="244.30" font-size="5.4" text-anchor="end" font-weight="normal" stroke="#1a1a1a" stroke-width="0.28" >30</text>
<line x1="194.55" y1="230.33" x2="196.75" y2="230.33" stroke="#333" stroke-width="0.7"/>
<text x="192.85" y="232.63" font-size="5.4" text-anchor="end" font-weight="normal" stroke="#1a1a1a" stroke-width="0.28" >40</text>
<line x1="194.55" y1="218.67" x2="196.75" y2="218.67" stroke="#333" stroke-width="0.7"/>
<text x="192.85" y="220.97" font-size="5.4" text-anchor="end" font-weight="normal" stroke="#1a1a1a" stroke-width="0.28" >50</text>
<line x1="194.55" y1="207.00" x2="196.75" y2="207.00" stroke="#333" stroke-width="0.7"/>
<text x="192.85" y="209.30" font-size="5.4" text-anchor="end" font-weight="normal" stroke="#1a1a1a" stroke-width="0.28" >60</text>
<line x1="194.55" y1="195.33" x2="196.75" y2="195.33" stroke="#333" stroke-width="0.7"/>
<text x="192.85" y="197.63" font-size="5.4" text-anchor="end" font-weight="normal" stroke="#1a1a1a" stroke-width="0.28" >70</text>
<line x1="194.55" y1="183.67" x2="196.75" y2="183.67" stroke="#333" stroke-width="0.7"/>
<text x="192.85" y="185.97" font-size="5.4" text-anchor="end" font-weight="normal" stroke="#1a1a1a" stroke-width="0.28" >80</text>
<line x1="194.55" y1="172.00" x2="196.75" y2="172.00" stroke="#333" stroke-width="0.7"/>
<text x="192.85" y="174.30" font-size="5.4" text-anchor="end" font-weight="normal" stroke="#1a1a1a" stroke-width="0.28" >90</text>
<line x1="196.75" y1="277" x2="196.75" y2="279" stroke="#555" stroke-width="0.6"/>
<line x1="233.69" y1="277" x2="233.69" y2="279" stroke="#555" stroke-width="0.6"/>
<line x1="270.62" y1="277" x2="270.62" y2="279" stroke="#555" stroke-width="0.6"/>
<line x1="307.56" y1="277" x2="307.56" y2="279" stroke="#555" stroke-width="0.6"/>
<line x1="344.50" y1="277" x2="344.50" y2="279" stroke="#555" stroke-width="0.6"/>
<text x="215.22" y="288.00" font-size="5.4" text-anchor="middle" font-weight="normal" stroke="#1a1a1a" stroke-width="0.22" >12:1</text>
<text x="252.16" y="288.00" font-size="5.4" text-anchor="middle" font-weight="normal" stroke="#1a1a1a" stroke-width="0.22" >25:1</text>
<text x="289.09" y="288.00" font-size="5.4" text-anchor="middle" font-weight="normal" stroke="#1a1a1a" stroke-width="0.22" >50:1</text>
<text x="326.03" y="288.00" font-size="5.4" text-anchor="middle" font-weight="normal" stroke="#1a1a1a" stroke-width="0.22" >100:1</text>
<text x="269.50" y="292.70" font-size="5.6" text-anchor="middle" font-weight="normal" stroke="#1a1a1a" stroke-width="0.22" letter-spacing="0.15">E:T ratio</text>
<text transform="translate(182.8 224) rotate(-90)" font-size="5.6" text-anchor="middle" stroke="#1a1a1a" stroke-width="0.12" textLength="43" lengthAdjust="spacing">% specific lysis</text>
<polyline points="215.22,276.53 252.16,272.33 289.09,258.57 326.03,239.67" fill="none" stroke="#1a1a1a" stroke-width="0.8"/>
<polyline points="215.22,276.53 252.16,273.50 289.09,262.77 326.03,247.37" fill="none" stroke="#1a1a1a" stroke-width="0.8"/>
<polyline points="215.22,276.53 252.16,274.08 289.09,267.78 326.03,258.57" fill="none" stroke="#1a1a1a" stroke-width="0.8"/>
<polyline points="215.22,276.53 252.16,275.83 289.09,275.95 326.03,277.00" fill="none" stroke="#1a1a1a" stroke-width="0.8"/>
<polyline points="215.22,276.53 252.16,275.83 289.09,274.55 326.03,274.55" fill="none" stroke="#1a1a1a" stroke-width="0.8"/>
<path d="M215.22 241.65C221.38 238.91 239.84 229.40 252.16 225.20C264.47 221.00 276.78 218.41 289.09 216.45C301.41 214.49 319.88 213.92 326.03 213.42" fill="none" stroke="#1a1a1a" stroke-width="0.8"/>
<path d="M215.22 274.58L217.17 276.53L215.22 278.48L213.27 276.53Z" fill="#1a1a1a" stroke="#1a1a1a" stroke-width="0.7"/>
<path d="M252.16 270.38L254.11 272.33L252.16 274.28L250.21 272.33Z" fill="#1a1a1a" stroke="#1a1a1a" stroke-width="0.7"/>
<path d="M289.09 256.62L291.04 258.57L289.09 260.52L287.14 258.57Z" fill="#1a1a1a" stroke="#1a1a1a" stroke-width="0.7"/>
<path d="M326.03 237.72L327.98 239.67L326.03 241.62L324.08 239.67Z" fill="#1a1a1a" stroke="#1a1a1a" stroke-width="0.7"/>
<rect x="213.09" y="274.41" width="4.25" height="4.25" fill="#1a1a1a" stroke="#1a1a1a" stroke-width="0.7"/>
<rect x="250.03" y="271.38" width="4.25" height="4.25" fill="#1a1a1a" stroke="#1a1a1a" stroke-width="0.7"/>
<rect x="286.97" y="260.64" width="4.25" height="4.25" fill="#1a1a1a" stroke="#1a1a1a" stroke-width="0.7"/>
<rect x="323.91" y="245.24" width="4.25" height="4.25" fill="#1a1a1a" stroke="#1a1a1a" stroke-width="0.7"/>
<path d="M215.22 274.03L217.72 278.53L212.72 278.53Z" fill="#1a1a1a" stroke="#1a1a1a" stroke-width="0.7"/>
<path d="M252.16 271.58L254.66 276.08L249.66 276.08Z" fill="#1a1a1a" stroke="#1a1a1a" stroke-width="0.7"/>
<path d="M289.09 265.28L291.59 269.78L286.59 269.78Z" fill="#1a1a1a" stroke="#1a1a1a" stroke-width="0.7"/>
<path d="M326.03 256.07L328.53 260.57L323.53 260.57Z" fill="#1a1a1a" stroke="#1a1a1a" stroke-width="0.7"/>
<path d="M215.22 274.16L217.59 276.53L215.22 278.91L212.84 276.53Z" fill="#f4f4f4" stroke="#1a1a1a" stroke-width="0.7"/>
<path d="M252.16 273.46L254.53 275.83L252.16 278.21L249.78 275.83Z" fill="#f4f4f4" stroke="#1a1a1a" stroke-width="0.7"/>
<path d="M289.09 273.57L291.47 275.95L289.09 278.32L286.72 275.95Z" fill="#f4f4f4" stroke="#1a1a1a" stroke-width="0.7"/>
<path d="M326.03 274.62L328.41 277.00L326.03 279.38L323.66 277.00Z" fill="#f4f4f4" stroke="#1a1a1a" stroke-width="0.7"/>
<rect x="213.09" y="274.41" width="4.25" height="4.25" fill="#f4f4f4" stroke="#1a1a1a" stroke-width="0.7"/>
<rect x="250.03" y="273.71" width="4.25" height="4.25" fill="#f4f4f4" stroke="#1a1a1a" stroke-width="0.7"/>
<rect x="286.97" y="272.43" width="4.25" height="4.25" fill="#f4f4f4" stroke="#1a1a1a" stroke-width="0.7"/>
<rect x="323.91" y="272.43" width="4.25" height="4.25" fill="#f4f4f4" stroke="#1a1a1a" stroke-width="0.7"/>
<path d="M215.22 239.15L217.72 243.65L212.72 243.65Z" fill="#f4f4f4" stroke="#1a1a1a" stroke-width="0.7"/>
<path d="M252.16 222.70L254.66 227.20L249.66 227.20Z" fill="#f4f4f4" stroke="#1a1a1a" stroke-width="0.7"/>
<path d="M289.09 213.95L291.59 218.45L286.59 218.45Z" fill="#f4f4f4" stroke="#1a1a1a" stroke-width="0.7"/>
<path d="M326.03 210.92L328.53 215.42L323.53 215.42Z" fill="#f4f4f4" stroke="#1a1a1a" stroke-width="0.7"/>
<line x1="206.75" y1="174.5" x2="217.5" y2="174.5" stroke="#1a1a1a" stroke-width="0.7"/>
<path d="M212.12 173.10L213.53 174.50L212.12 175.90L210.72 174.50Z" fill="#1a1a1a" stroke="#1a1a1a" stroke-width="0.6"/>
<text x="220.00" y="176.30" font-size="5.0" text-anchor="start" font-weight="normal" stroke="#1a1a1a" stroke-width="0.22" >YAC-1</text>
<line x1="257" y1="174.5" x2="267.5" y2="174.5" stroke="#1a1a1a" stroke-width="0.7"/>
<circle cx="262.25" cy="174.50" r="1.44" fill="#1a1a1a" stroke="#1a1a1a" stroke-width="0.6"/>
<text x="270.00" y="176.30" font-size="5.0" text-anchor="start" font-weight="normal" stroke="#1a1a1a" stroke-width="0.22" >MI-pcDNA</text>
<line x1="306.75" y1="174.5" x2="317.5" y2="174.5" stroke="#1a1a1a" stroke-width="0.7"/>
<path d="M312.12 172.70L313.93 175.94L310.32 175.94Z" fill="#1a1a1a" stroke="#1a1a1a" stroke-width="0.6"/>
<text x="320.00" y="176.30" font-size="5.0" text-anchor="start" font-weight="normal" stroke="#1a1a1a" stroke-width="0.22" >MI-G1</text>
<line x1="206.75" y1="182.3" x2="217.5" y2="182.3" stroke="#1a1a1a" stroke-width="0.7"/>
<path d="M212.12 180.78L213.65 182.30L212.12 183.82L210.60 182.30Z" fill="#f4f4f4" stroke="#1a1a1a" stroke-width="0.6"/>
<text x="220.00" y="184.10" font-size="5.0" text-anchor="start" font-weight="normal" stroke="#1a1a1a" stroke-width="0.22" >YAC-1</text>
<line x1="257" y1="182.3" x2="267.5" y2="182.3" stroke="#1a1a1a" stroke-width="0.7"/>
<circle cx="262.25" cy="182.30" r="1.28" fill="#f4f4f4" stroke="#1a1a1a" stroke-width="0.6"/>
<text x="270.00" y="184.10" font-size="5.0" text-anchor="start" font-weight="normal" stroke="#1a1a1a" stroke-width="0.22" >MI-pcDNA</text>
<line x1="306.75" y1="182.3" x2="317.5" y2="182.3" stroke="#1a1a1a" stroke-width="0.7"/>
<path d="M312.12 180.70L313.73 183.58L310.52 183.58Z" fill="#f4f4f4" stroke="#1a1a1a" stroke-width="0.6"/>
<text x="320.00" y="184.10" font-size="5.0" text-anchor="start" font-weight="normal" stroke="#1a1a1a" stroke-width="0.22" >MI-G1</text>
<line x1="369.25" y1="172.7" x2="369.25" y2="277.5" stroke="#505050" stroke-width="0.72"/>
<line x1="369.25" y1="277.2" x2="517" y2="277.2" stroke="#777" stroke-width="0.7"/>
<line x1="367.05" y1="277.20" x2="369.25" y2="277.20" stroke="#333" stroke-width="0.7"/>
<text x="365.35" y="279.50" font-size="5.4" text-anchor="end" font-weight="normal" stroke="#1a1a1a" stroke-width="0.28" >0</text>
<line x1="367.05" y1="265.62" x2="369.25" y2="265.62" stroke="#333" stroke-width="0.7"/>
<text x="365.35" y="267.92" font-size="5.4" text-anchor="end" font-weight="normal" stroke="#1a1a1a" stroke-width="0.28" >10</text>
<line x1="367.05" y1="254.04" x2="369.25" y2="254.04" stroke="#333" stroke-width="0.7"/>
<text x="365.35" y="256.34" font-size="5.4" text-anchor="end" font-weight="normal" stroke="#1a1a1a" stroke-width="0.28" >20</text>
<line x1="367.05" y1="242.47" x2="369.25" y2="242.47" stroke="#333" stroke-width="0.7"/>
<text x="365.35" y="244.77" font-size="5.4" text-anchor="end" font-weight="normal" stroke="#1a1a1a" stroke-width="0.28" >30</text>
<line x1="367.05" y1="230.89" x2="369.25" y2="230.89" stroke="#333" stroke-width="0.7"/>
<text x="365.35" y="233.19" font-size="5.4" text-anchor="end" font-weight="normal" stroke="#1a1a1a" stroke-width="0.28" >40</text>
<line x1="367.05" y1="219.31" x2="369.25" y2="219.31" stroke="#333" stroke-width="0.7"/>
<text x="365.35" y="221.61" font-size="5.4" text-anchor="end" font-weight="normal" stroke="#1a1a1a" stroke-width="0.28" >50</text>
<line x1="367.05" y1="207.73" x2="369.25" y2="207.73" stroke="#333" stroke-width="0.7"/>
<text x="365.35" y="210.03" font-size="5.4" text-anchor="end" font-weight="normal" stroke="#1a1a1a" stroke-width="0.28" >60</text>
<line x1="367.05" y1="196.16" x2="369.25" y2="196.16" stroke="#333" stroke-width="0.7"/>
<text x="365.35" y="198.46" font-size="5.4" text-anchor="end" font-weight="normal" stroke="#1a1a1a" stroke-width="0.28" >70</text>
<line x1="367.05" y1="184.58" x2="369.25" y2="184.58" stroke="#333" stroke-width="0.7"/>
<text x="365.35" y="186.88" font-size="5.4" text-anchor="end" font-weight="normal" stroke="#1a1a1a" stroke-width="0.28" >80</text>
<line x1="367.05" y1="173.00" x2="369.25" y2="173.00" stroke="#333" stroke-width="0.7"/>
<text x="365.35" y="175.30" font-size="5.4" text-anchor="end" font-weight="normal" stroke="#1a1a1a" stroke-width="0.28" >90</text>
<line x1="369.25" y1="277.2" x2="369.25" y2="279.2" stroke="#555" stroke-width="0.6"/>
<line x1="406.19" y1="277.2" x2="406.19" y2="279.2" stroke="#555" stroke-width="0.6"/>
<line x1="443.12" y1="277.2" x2="443.12" y2="279.2" stroke="#555" stroke-width="0.6"/>
<line x1="480.06" y1="277.2" x2="480.06" y2="279.2" stroke="#555" stroke-width="0.6"/>
<line x1="517.00" y1="277.2" x2="517.00" y2="279.2" stroke="#555" stroke-width="0.6"/>
<text x="387.72" y="288.00" font-size="5.4" text-anchor="middle" font-weight="normal" stroke="#1a1a1a" stroke-width="0.22" >12:1</text>
<text x="424.66" y="288.00" font-size="5.4" text-anchor="middle" font-weight="normal" stroke="#1a1a1a" stroke-width="0.22" >25:1</text>
<text x="461.59" y="288.00" font-size="5.4" text-anchor="middle" font-weight="normal" stroke="#1a1a1a" stroke-width="0.22" >50:1</text>
<text x="498.53" y="288.00" font-size="5.4" text-anchor="middle" font-weight="normal" stroke="#1a1a1a" stroke-width="0.22" >100:1</text>
<text x="442.00" y="293.80" font-size="5.6" text-anchor="middle" font-weight="normal" stroke="#1a1a1a" stroke-width="0.22" letter-spacing="0.15">E:T ratio</text>
<text transform="translate(355.5 225) rotate(-90)" font-size="5.6" text-anchor="middle" stroke="#1a1a1a" stroke-width="0.12" textLength="43" lengthAdjust="spacing">% specific lysis</text>
<polyline points="387.72,276.85 424.66,276.62 461.59,276.27 498.53,276.62" fill="none" stroke="#1a1a1a" stroke-width="0.8"/>
<polyline points="387.72,276.85 424.66,276.62 461.59,276.51 498.53,276.62" fill="none" stroke="#1a1a1a" stroke-width="0.8"/>
<polyline points="387.72,276.85 424.66,276.74 461.59,276.16 498.53,276.51" fill="none" stroke="#1a1a1a" stroke-width="0.8"/>
<polyline points="387.72,276.85 424.66,276.62 461.59,276.27 498.53,276.62" fill="none" stroke="#1a1a1a" stroke-width="0.8"/>
<polyline points="387.72,276.85 424.66,276.04 461.59,276.62 498.53,274.88" fill="none" stroke="#1a1a1a" stroke-width="0.8"/>
<polyline points="387.72,276.85 424.66,276.62 461.59,276.04 498.53,276.51" fill="none" stroke="#1a1a1a" stroke-width="0.8"/>
<path d="M387.72 274.90L389.67 276.85L387.72 278.80L385.77 276.85Z" fill="#1a1a1a" stroke="#1a1a1a" stroke-width="0.7"/>
<path d="M424.66 274.67L426.61 276.62L424.66 278.57L422.71 276.62Z" fill="#1a1a1a" stroke="#1a1a1a" stroke-width="0.7"/>
<path d="M461.59 274.32L463.54 276.27L461.59 278.22L459.64 276.27Z" fill="#1a1a1a" stroke="#1a1a1a" stroke-width="0.7"/>
<path d="M498.53 274.67L500.48 276.62L498.53 278.57L496.58 276.62Z" fill="#1a1a1a" stroke="#1a1a1a" stroke-width="0.7"/>
<rect x="385.59" y="274.73" width="4.25" height="4.25" fill="#1a1a1a" stroke="#1a1a1a" stroke-width="0.7"/>
<rect x="422.53" y="274.50" width="4.25" height="4.25" fill="#1a1a1a" stroke="#1a1a1a" stroke-width="0.7"/>
<rect x="459.47" y="274.38" width="4.25" height="4.25" fill="#1a1a1a" stroke="#1a1a1a" stroke-width="0.7"/>
<rect x="496.41" y="274.50" width="4.25" height="4.25" fill="#1a1a1a" stroke="#1a1a1a" stroke-width="0.7"/>
<path d="M387.72 274.35L390.22 278.85L385.22 278.85Z" fill="#1a1a1a" stroke="#1a1a1a" stroke-width="0.7"/>
<path d="M424.66 274.24L427.16 278.74L422.16 278.74Z" fill="#1a1a1a" stroke="#1a1a1a" stroke-width="0.7"/>
<path d="M461.59 273.66L464.09 278.16L459.09 278.16Z" fill="#1a1a1a" stroke="#1a1a1a" stroke-width="0.7"/>
<path d="M498.53 274.01L501.03 278.51L496.03 278.51Z" fill="#1a1a1a" stroke="#1a1a1a" stroke-width="0.7"/>
<path d="M387.72 274.48L390.09 276.85L387.72 279.23L385.34 276.85Z" fill="#f4f4f4" stroke="#1a1a1a" stroke-width="0.7"/>
<path d="M424.66 274.25L427.03 276.62L424.66 279.00L422.28 276.62Z" fill="#f4f4f4" stroke="#1a1a1a" stroke-width="0.7"/>
<path d="M461.59 273.90L463.97 276.27L461.59 278.65L459.22 276.27Z" fill="#f4f4f4" stroke="#1a1a1a" stroke-width="0.7"/>
<path d="M498.53 274.25L500.91 276.62L498.53 279.00L496.16 276.62Z" fill="#f4f4f4" stroke="#1a1a1a" stroke-width="0.7"/>
<rect x="385.59" y="274.73" width="4.25" height="4.25" fill="#f4f4f4" stroke="#1a1a1a" stroke-width="0.7"/>
<rect x="422.53" y="273.92" width="4.25" height="4.25" fill="#f4f4f4" stroke="#1a1a1a" stroke-width="0.7"/>
<rect x="459.47" y="274.50" width="4.25" height="4.25" fill="#f4f4f4" stroke="#1a1a1a" stroke-width="0.7"/>
<rect x="496.41" y="272.76" width="4.25" height="4.25" fill="#f4f4f4" stroke="#1a1a1a" stroke-width="0.7"/>
<path d="M387.72 274.35L390.22 278.85L385.22 278.85Z" fill="#f4f4f4" stroke="#1a1a1a" stroke-width="0.7"/>
<path d="M424.66 274.12L427.16 278.62L422.16 278.62Z" fill="#f4f4f4" stroke="#1a1a1a" stroke-width="0.7"/>
<path d="M461.59 273.54L464.09 278.04L459.09 278.04Z" fill="#f4f4f4" stroke="#1a1a1a" stroke-width="0.7"/>
<path d="M498.53 274.01L501.03 278.51L496.03 278.51Z" fill="#f4f4f4" stroke="#1a1a1a" stroke-width="0.7"/>
<line x1="381.75" y1="175.3" x2="391.75" y2="175.3" stroke="#1a1a1a" stroke-width="0.7"/>
<path d="M386.75 173.90L388.15 175.30L386.75 176.70L385.35 175.30Z" fill="#1a1a1a" stroke="#1a1a1a" stroke-width="0.6"/>
<text x="394.50" y="177.10" font-size="5.0" text-anchor="start" font-weight="normal" stroke="#1a1a1a" stroke-width="0.22" >YAC-1</text>
<line x1="426.75" y1="175.3" x2="437.5" y2="175.3" stroke="#1a1a1a" stroke-width="0.7"/>
<circle cx="432.12" cy="175.30" r="1.44" fill="#1a1a1a" stroke="#1a1a1a" stroke-width="0.6"/>
<text x="439.50" y="177.10" font-size="5.0" text-anchor="start" font-weight="normal" stroke="#1a1a1a" stroke-width="0.22" >MI-pcDNA</text>
<line x1="471.75" y1="175.3" x2="482.5" y2="175.3" stroke="#1a1a1a" stroke-width="0.7"/>
<path d="M477.12 173.50L478.93 176.74L475.32 176.74Z" fill="#1a1a1a" stroke="#1a1a1a" stroke-width="0.6"/>
<text x="483.75" y="177.10" font-size="5.0" text-anchor="start" font-weight="normal" stroke="#1a1a1a" stroke-width="0.22" >MI-G1</text>
<line x1="381.75" y1="182.5" x2="391.75" y2="182.5" stroke="#1a1a1a" stroke-width="0.7"/>
<path d="M386.75 180.98L388.27 182.50L386.75 184.02L385.23 182.50Z" fill="#f4f4f4" stroke="#1a1a1a" stroke-width="0.6"/>
<text x="394.50" y="184.30" font-size="5.0" text-anchor="start" font-weight="normal" stroke="#1a1a1a" stroke-width="0.22" >YAC-1</text>
<line x1="426.75" y1="182.5" x2="437.5" y2="182.5" stroke="#1a1a1a" stroke-width="0.7"/>
<circle cx="432.12" cy="182.50" r="1.28" fill="#f4f4f4" stroke="#1a1a1a" stroke-width="0.6"/>
<text x="439.50" y="184.30" font-size="5.0" text-anchor="start" font-weight="normal" stroke="#1a1a1a" stroke-width="0.22" >MI-pcDNA</text>
<line x1="471.75" y1="182.5" x2="482.5" y2="182.5" stroke="#1a1a1a" stroke-width="0.7"/>
<path d="M477.12 180.90L478.73 183.78L475.52 183.78Z" fill="#f4f4f4" stroke="#1a1a1a" stroke-width="0.6"/>
<text x="483.75" y="184.30" font-size="5.0" text-anchor="start" font-weight="normal" stroke="#1a1a1a" stroke-width="0.22" >MI-G1</text>
<text x="4.00" y="16.20" font-size="11.3" text-anchor="start" font-weight="bold" stroke="#1a1a1a" stroke-width="0.3" >A</text>
<text x="3.60" y="161.30" font-size="11.3" text-anchor="start" font-weight="bold" stroke="#1a1a1a" stroke-width="0.3" >B</text>
<rect x="86.7" y="1.9" width="29.799999999999997" height="13.9" fill="#fff" stroke="#333" stroke-width="1.05"/>
<text x="101.60" y="11.70" font-size="7.8" text-anchor="middle" font-weight="normal" stroke="#1a1a1a" stroke-width="0.25" letter-spacing="-0.35">Day 1</text>
<rect x="262.9" y="1.9" width="30.0" height="13.9" fill="#fff" stroke="#333" stroke-width="1.05"/>
<text x="277.90" y="11.70" font-size="7.8" text-anchor="middle" font-weight="normal" stroke="#1a1a1a" stroke-width="0.25" letter-spacing="-0.35">Day 3</text>
<rect x="430.5" y="1.9" width="33.80000000000001" height="13.9" fill="#fff" stroke="#333" stroke-width="1.05"/>
<text x="447.40" y="11.70" font-size="7.8" text-anchor="middle" font-weight="normal" stroke="#1a1a1a" stroke-width="0.25" letter-spacing="-0.35">Day 11</text>
<path d="M103.80 306.30L106.30 308.80L103.80 311.30L101.30 308.80Z" fill="#1a1a1a" stroke="#1a1a1a" stroke-width="0.7"/>
<rect x="112.39" y="306.59" width="4.42" height="4.42" fill="#1a1a1a" stroke="#1a1a1a" stroke-width="0.7"/>
<path d="M124.50 305.70L127.30 310.74L121.70 310.74Z" fill="#1a1a1a" stroke="#1a1a1a" stroke-width="0.7"/>
<text x="133.00" y="311.30" font-size="7.2" text-anchor="start" font-weight="normal" stroke="#1a1a1a" stroke-width="0.08" >MB-pcDNA injected mice</text>
<path d="M263.80 306.33L266.27 308.80L263.80 311.27L261.33 308.80Z" fill="#cfcfcf" stroke="#222" stroke-width="0.7"/>
<rect x="271.79" y="306.59" width="4.42" height="4.42" fill="#cfcfcf" stroke="#222" stroke-width="0.7"/>
<path d="M283.80 305.70L286.60 310.74L281.00 310.74Z" fill="#cfcfcf" stroke="#222" stroke-width="0.7"/>
<text x="293.00" y="311.30" font-size="7.2" text-anchor="start" font-weight="normal" stroke="#1a1a1a" stroke-width="0.08" >MB-HLA-G1 injected mice</text>
</g>
<defs><filter id="soft" x="0" y="0" width="520" height="317" filterUnits="userSpaceOnUse"><feGaussianBlur stdDeviation="0.3"/></filter></defs>
</svg>
</body></html>
